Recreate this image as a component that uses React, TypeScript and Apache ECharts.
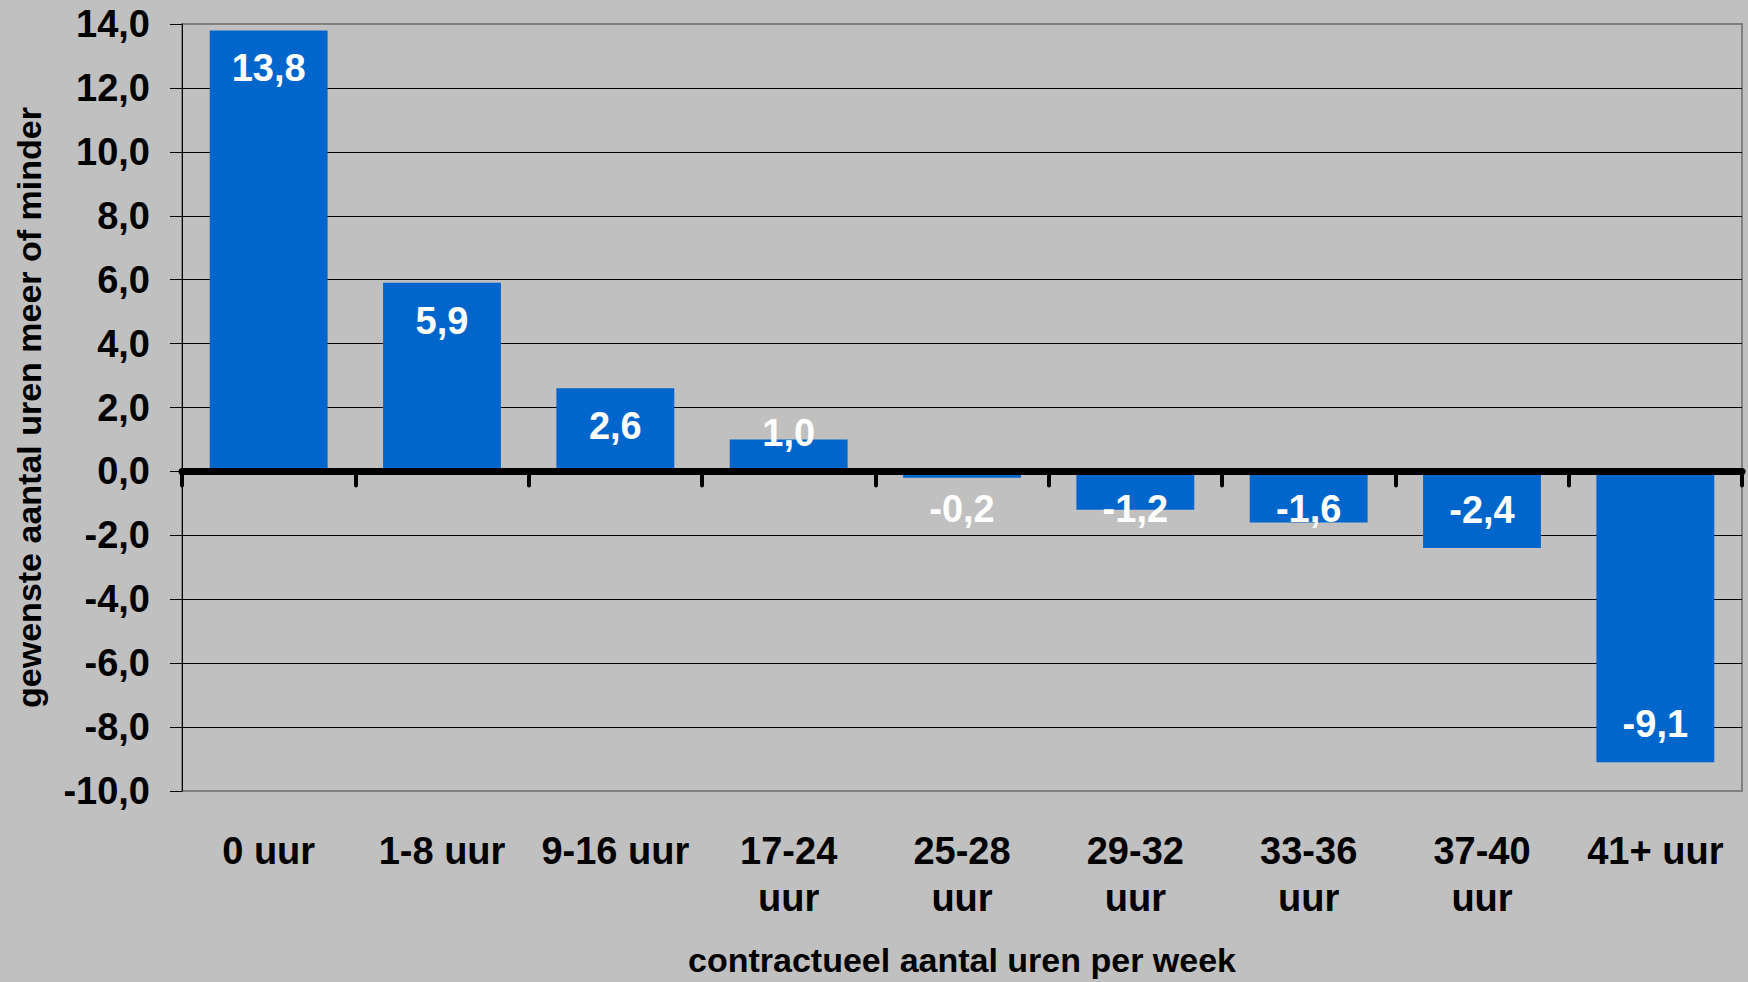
import React, { useEffect, useRef } from 'react';
import * as echarts from 'echarts';

const categories = ['0 uur', '1-8 uur', '9-16 uur', '17-24\nuur', '25-28\nuur', '29-32\nuur', '33-36\nuur', '37-40\nuur', '41+ uur'];
const values = [13.8, 5.9, 2.6, 1.0, -0.2, -1.2, -1.6, -2.4, -9.1];
const yMin = -10;
const yMax = 14;
const yStep = 2;
const yTitle = 'gewenste aantal uren meer of minder';
const xTitle = 'contractueel aantal uren per week';

const FONT = '"Liberation Sans", Arial, Helvetica, sans-serif';
const fmt = (v: number) => v.toFixed(1).replace('.', ',');

export default function App() {
  const ref = useRef<HTMLDivElement>(null);
  useEffect(() => {
    if (!ref.current) return;
    const chart = echarts.init(ref.current, null, { renderer: 'svg' });
    const option: any = {
      animation: false,
      backgroundColor: '#C0C0C0',
      textStyle: { fontFamily: FONT },
      grid: {
        left: 182, right: 6, top: 24, bottom: 187,
        show: true, borderColor: '#808080', borderWidth: 2, backgroundColor: '#C0C0C0',
      },
      xAxis: [
        {
          type: 'category', data: categories, z: 10,
          axisLine: { onZero: true, lineStyle: { color: '#000', width: 7 } },
          axisTick: { show: true, alignWithLabel: false, length: 14, lineStyle: { color: '#000', width: 4, cap: 'round' } },
          axisLabel: { show: false },
          splitLine: { show: false },
        },
        {
          type: 'category', data: categories, position: 'bottom',
          axisLine: { show: false, onZero: false },
          axisTick: { show: false },
          axisLabel: {
            show: true, interval: 0, margin: 36, color: '#000', fontWeight: 'bold',
            fontSize: 38, lineHeight: 47, fontFamily: FONT,
          },
          name: xTitle, nameLocation: 'middle', nameGap: 152,
          nameTextStyle: { color: '#000', fontWeight: 'bold', fontSize: 34, fontFamily: FONT },
        },
      ],
      yAxis: {
        type: 'value', min: yMin, max: yMax, interval: yStep,
        axisLine: { show: true, lineStyle: { color: '#000', width: 1 } },
        axisTick: { show: true, length: 12, lineStyle: { color: '#000', width: 1 } },
        axisLabel: {
          margin: 32, color: '#000', fontWeight: 'bold', fontSize: 38, fontFamily: FONT,
          formatter: (v: number) => fmt(v),
        },
        splitLine: { show: true, showMinLine: false, showMaxLine: false, lineStyle: { color: '#000', width: 1 } },
        name: yTitle, nameLocation: 'middle', nameGap: 136,
        nameTextStyle: { color: '#000', fontWeight: 'bold', fontSize: 34, fontFamily: FONT },
      },
      series: [
        {
          id: 'bars', type: 'bar', data: values, xAxisIndex: 0, barWidth: '68%',
          itemStyle: { color: '#0066CC' },
          label: { show: false },
        },
        {
          id: 'labels', type: 'scatter', xAxisIndex: 0, data: [], symbolSize: 0, silent: true, z: 20,
          itemStyle: { opacity: 1 },
          label: {
            show: true, position: 'inside', color: '#ffffff', opacity: 1, fontWeight: 'bold', fontSize: 38, fontFamily: FONT,
            formatter: (p: any) => fmt(values[p.dataIndex]),
          },
        },
      ],
    };
    chart.setOption(option);
    const p0 = chart.convertToPixel({ yAxisIndex: 0 }, 0) as number;
    const p1 = chart.convertToPixel({ yAxisIndex: 0 }, 1) as number;
    const ppu = Math.abs(p0 - p1);
    const d = 38 / ppu;
    const labelData = values.map((v, i) => [i, v >= 0 ? Math.max(v - d, d) : Math.min(v + d, -d)]);
    chart.setOption({ series: [{ id: 'bars' }, { id: 'labels', data: labelData }] });
    return () => chart.dispose();
  }, []);
  return (
    <div style={{ position: 'fixed', left: 0, top: 0, width: 1748, height: 982, background: '#C0C0C0' }}>
      <div ref={ref} style={{ width: 1748, height: 982 }} />
    </div>
  );
}
